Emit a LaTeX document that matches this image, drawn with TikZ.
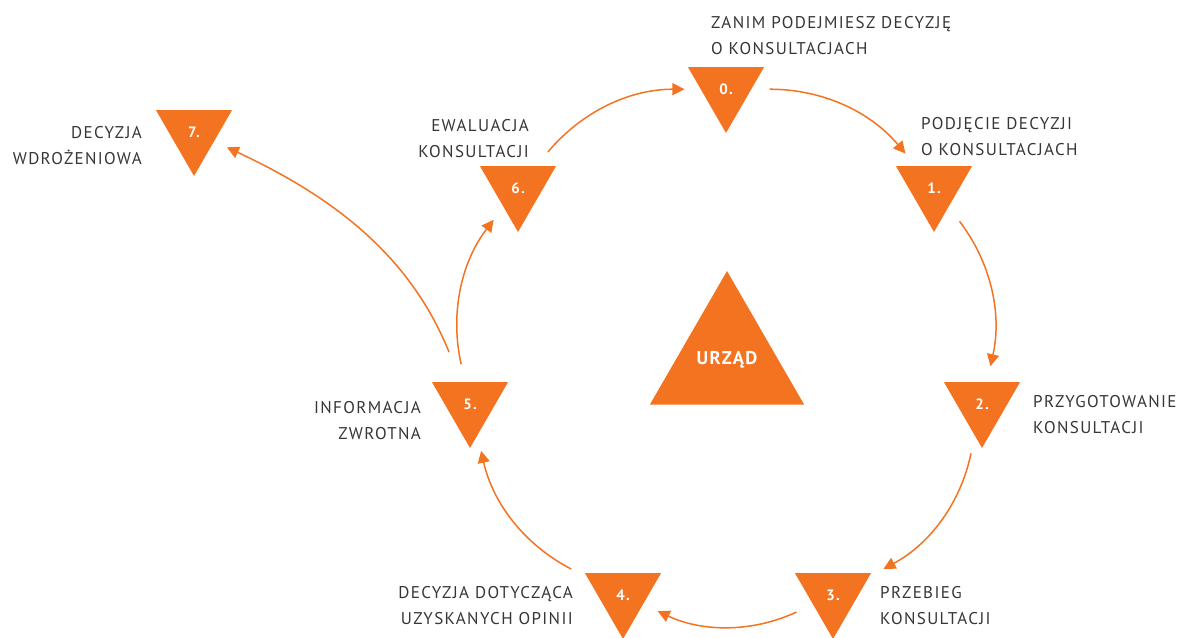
\documentclass[tikz,border=0pt]{standalone}
\usepackage{fontspec}
\setmainfont{PT Sans}[LetterSpace=8]
\usepackage{xcolor}
\usetikzlibrary{positioning,shapes.geometric,arrows.meta}
\definecolor{urzOrange}{HTML}{F47321}
\definecolor{urzText}{HTML}{363636}

\begin{document}
\begin{tikzpicture}[x=1pt,y=-1pt,
  steptri/.style={regular polygon, regular polygon sides=3,
    shape border rotate=180, fill=urzOrange, minimum size=88pt,
    inner sep=0pt, text=white, font=\fontsize{15}{15}\selectfont\bfseries},
  hubtri/.style={regular polygon, regular polygon sides=3,
    fill=urzOrange, minimum size=178pt, inner sep=0pt,
    text=white, font=\fontsize{18.5}{18.5}\selectfont\bfseries},
  stepdesc/.style={text=urzText, inner sep=0pt,
    font=\fontsize{17}{26}\selectfont},
  flow/.style={draw=urzOrange, line width=1.5pt,
    -{Triangle[length=12pt,width=12pt]},
    shorten <=18pt, shorten >=16pt}]

% --- CANVAS ---
\useasboundingbox (0,0) rectangle (1180,637);

% --- PARAMETERS ---
\def\stepdata{%
  0/726/89,%
  1/934/188,%
  2/982/404,%
  3/833/595,%
  4/623/595,%
  5/470/404,%
  6/518/188,%
  7/194/132%
}

% --- STEP TRIANGLES ---
\foreach \n/\x/\y in \stepdata {
  \node[steptri] (t\n) at (\x,\y) {\n.};
}

% --- CENTRE ---
\node[hubtri] (hub) at (727,360) {URZĄD};

% --- DESCRIPTIONS ---
\node[stepdesc, anchor=west, align=left]  (d0) at (711,35.5)
  {ZANIM PODEJMIESZ DECYZJĘ\\O KONSULTACJACH};
\node[stepdesc, anchor=west, align=left]  (d1) at (921,137)
  {PODJĘCIE DECYZJI\\O KONSULTACJACH};
\node[stepdesc, anchor=west, align=left]  (d2) at (1033,414.5)
  {PRZYGOTOWANIE\\KONSULTACJI};
\node[stepdesc, anchor=west, align=left]  (d3) at (880,606)
  {PRZEBIEG\\KONSULTACJI};
\node[stepdesc, anchor=east, align=right] (d4) at (573,606)
  {DECYZJA DOTYCZĄCA\\UZYSKANYCH OPINII};
\node[stepdesc, anchor=east, align=right] (d5) at (421,420.5)
  {INFORMACJA\\ZWROTNA};
\node[stepdesc, anchor=east, align=right] (d6) at (529,139)
  {EWALUACJA\\KONSULTACJI};
\node[stepdesc, anchor=east, align=right] (d7) at (142,145.5)
  {DECYZJA\\WDROŻENIOWA};

% --- CYCLE ---
\foreach \a/\b in {0/1,1/2,2/3,3/4,4/5,5/6,6/0} {
  \draw[flow] (t\a) to[bend left=25] (t\b);
}

% --- EXIT TO IMPLEMENTATION ---
\draw[flow, shorten <=32pt, shorten >=14pt]
  (t5) to[out=112, in=-25] (t7);

\end{tikzpicture}
\end{document}
